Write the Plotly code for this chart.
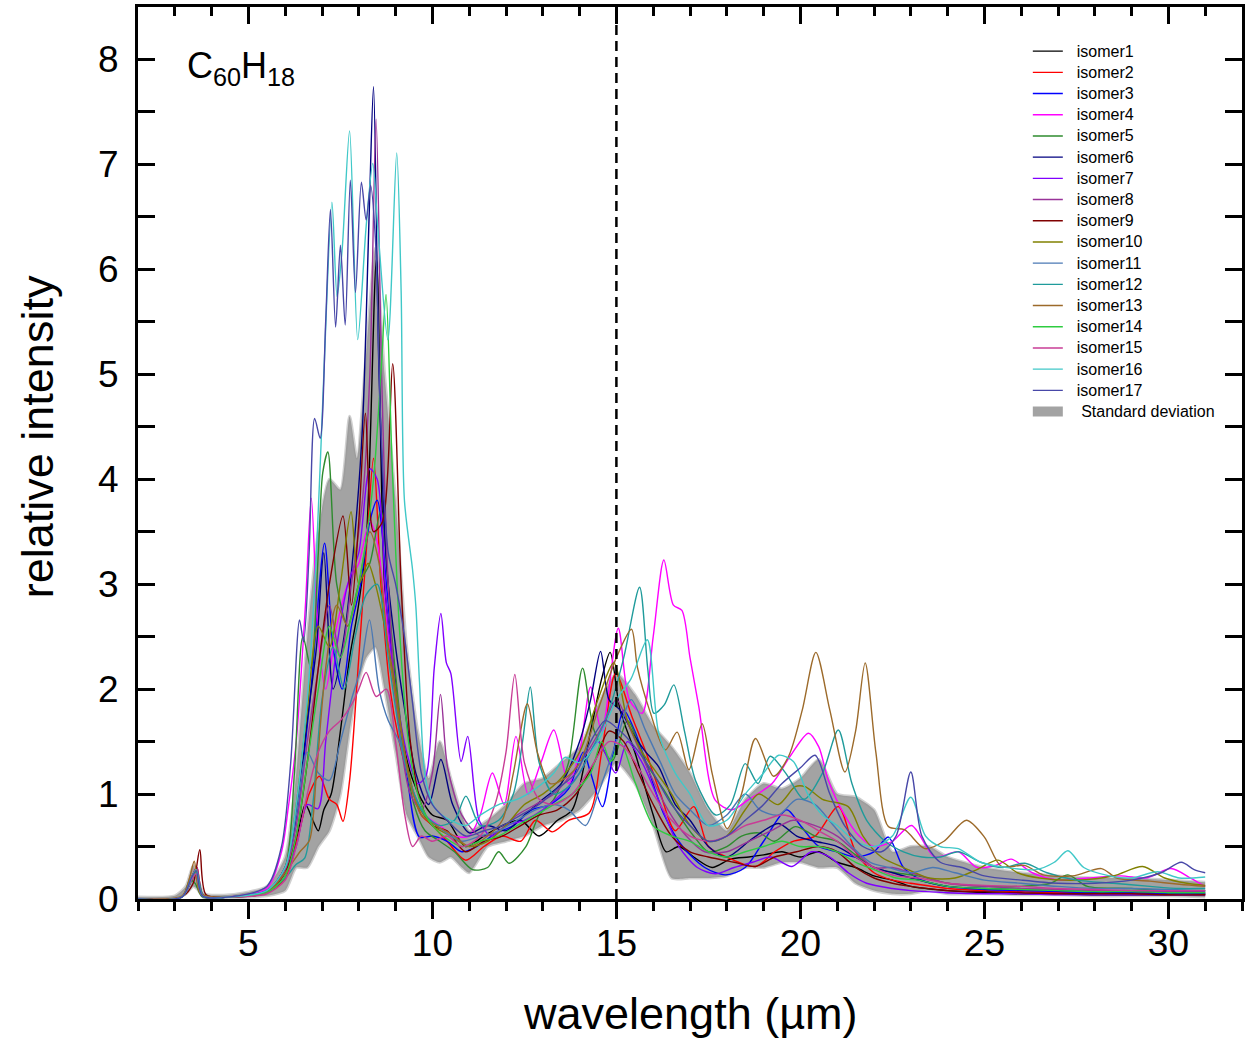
import plotly.graph_objects as go

# ---- IR spectra of the C60H18 isomers: (wavelength in um, relative intensity) ----
iso1 = [(2,0),(3.2,0.02),(3.45,0.18),(3.58,0.26),(3.75,0.04),(4.5,0.02),(5.5,0.07),(6.0,0.25),(6.3,0.55),(6.55,0.9),(6.75,0.75),(6.9,0.65),(7.05,0.85),(7.25,1.0),(7.5,1.6),(7.75,2.3),(7.95,2.7),(8.2,3.4),(8.48,6.1),(8.7,3.0),(8.95,2.2),(9.2,1.5),(9.45,1.15),(9.7,0.95),(10.0,0.8),(10.4,0.75),(10.9,0.5),(11.4,0.6),(11.9,0.7),(12.4,0.75),(12.9,0.6),(13.4,0.75),(13.8,0.85),(14.3,1.6),(14.6,2.1),(14.83,2.35),(15.1,1.8),(15.5,1.4),(16.0,0.8),(16.35,0.45),(16.7,0.5),(17.1,0.4),(17.6,0.3),(18.1,0.38),(18.6,0.4),(19.0,0.42),(19.5,0.45),(20.0,0.4),(20.5,0.45),(21.0,0.35),(21.5,0.3),(22.0,0.22),(22.5,0.18),(23.0,0.12),(24,0.08),(25,0.06),(26,0.05),(27,0.05),(28,0.04),(29,0.04),(30,0.04),(31,0.04)]
iso2 = [(2,0),(3.2,0.02),(3.45,0.2),(3.6,0.3),(3.78,0.03),(4.5,0.02),(5.5,0.06),(6.0,0.2),(6.35,0.6),(6.65,1.0),(6.93,1.17),(7.2,0.95),(7.4,0.9),(7.57,0.74),(7.75,1.13),(8.0,2.3),(8.2,3.3),(8.4,4.2),(8.6,3.0),(8.85,2.0),(9.1,1.5),(9.4,1.1),(9.7,0.8),(10.0,0.7),(10.4,0.55),(10.9,0.37),(11.4,0.5),(11.9,0.6),(12.4,0.55),(12.8,0.75),(13.26,0.64),(13.7,0.75),(14.26,0.82),(14.6,1.4),(14.98,2.15),(15.42,1.74),(15.8,1.4),(16.2,1.0),(16.6,0.65),(17.1,0.88),(17.5,0.5),(18.0,0.4),(18.78,0.31),(19.3,0.45),(19.8,0.55),(20.4,0.6),(21.03,0.88),(21.5,0.45),(22.0,0.25),(22.5,0.18),(23.0,0.15),(24,0.1),(25,0.08),(26,0.07),(27,0.06),(28,0.06),(29,0.05),(30,0.05),(31,0.05)]
iso3 = [(2,0),(3.2,0.02),(3.45,0.18),(3.58,0.25),(3.75,0.03),(4.5,0.02),(5.5,0.07),(6.0,0.3),(6.35,0.9),(6.7,2.0),(7.07,3.39),(7.3,2.4),(7.55,2.0),(7.8,2.6),(8.05,3.0),(8.3,3.6),(8.5,3.8),(8.75,3.0),(9.0,2.0),(9.3,1.2),(9.65,0.59),(10.0,0.6),(10.4,0.55),(10.8,0.45),(11.2,0.5),(11.7,0.62),(12.2,0.7),(12.7,0.85),(13.2,0.9),(13.7,1.05),(14.1,1.4),(14.3,1.2),(14.62,0.88),(14.93,1.42),(15.2,1.8),(15.5,1.6),(15.9,1.2),(16.3,0.8),(16.8,0.5),(17.4,0.3),(17.96,0.23),(18.5,0.3),(19.0,0.55),(19.63,0.85),(20.0,0.7),(20.5,0.5),(21.0,0.45),(21.5,0.4),(22.0,0.45),(22.39,0.59),(22.8,0.3),(23.3,0.18),(24,0.12),(25,0.09),(26,0.08),(27,0.07),(28,0.06),(29,0.06),(30,0.05),(31,0.05)]
iso4 = [(2,0),(3.2,0.02),(3.45,0.2),(3.58,0.27),(3.75,0.03),(4.5,0.02),(5.5,0.1),(5.9,0.45),(6.08,0.86),(6.3,1.5),(6.55,2.8),(6.71,3.82),(6.9,2.5),(7.1,2.0),(7.4,2.6),(7.7,3.0),(8.0,3.2),(8.3,3.6),(8.5,3.4),(8.8,2.5),(9.1,1.6),(9.4,1.1),(9.8,0.8),(10.2,0.7),(10.6,0.6),(11.0,0.6),(11.3,0.8),(11.63,1.2),(11.95,0.9),(12.27,1.55),(12.6,1.0),(12.95,1.3),(13.3,1.61),(13.7,1.1),(14.0,1.4),(14.3,2.02),(14.6,1.6),(15.05,2.58),(15.35,1.9),(15.7,1.77),(16.0,2.5),(16.29,3.23),(16.55,2.8),(16.78,2.75),(17.0,2.3),(17.24,1.83),(17.69,0.94),(18.14,0.85),(18.6,0.95),(19.23,1.1),(19.72,1.36),(20.22,1.58),(20.5,1.45),(20.76,1.13),(21.2,0.8),(21.6,0.6),(22.0,0.5),(22.5,0.55),(23.02,0.70),(23.65,0.4),(24.29,0.45),(24.8,0.3),(25.3,0.32),(25.73,0.38),(26.3,0.25),(27.0,0.18),(27.8,0.2),(28.72,0.22),(29.4,0.2),(30.07,0.29),(30.6,0.2),(31,0.12)]
iso5 = [(2,0),(3.2,0.02),(3.41,0.18),(3.55,0.15),(3.75,0.02),(4.5,0.02),(5.5,0.06),(6.0,0.3),(6.25,1.2),(6.48,2.5),(6.7,2.2),(6.9,3.3),(7.02,4.06),(7.16,4.26),(7.4,3.0),(7.7,2.6),(8.0,3.0),(8.3,3.2),(8.6,3.7),(8.9,2.5),(9.2,1.5),(9.5,0.9),(9.8,0.65),(10.2,0.55),(10.6,0.45),(11.09,0.28),(11.5,0.3),(11.8,0.45),(12.09,0.34),(12.54,0.5),(12.9,0.8),(13.3,0.95),(13.7,1.3),(14.08,2.2),(14.4,1.6),(14.89,1.32),(15.3,1.7),(15.8,1.3),(16.29,1.04),(16.7,0.8),(17.1,0.6),(17.5,0.45),(18.0,0.5),(18.4,0.6),(18.87,0.63),(19.3,0.55),(19.86,0.69),(20.4,0.6),(21.0,0.55),(21.5,0.42),(22.0,0.3),(22.6,0.25),(23.2,0.22),(24,0.15),(25,0.12),(26,0.12),(26.8,0.15),(27.27,0.23),(27.8,0.12),(29,0.1),(30,0.08),(31,0.08)]
iso6 = [(2,0),(3.2,0.02),(3.45,0.2),(3.58,0.28),(3.75,0.03),(4.5,0.02),(5.5,0.08),(6.0,0.3),(6.3,0.8),(6.6,1.7),(6.85,2.4),(7.05,3.3),(7.3,2.0),(7.6,2.5),(7.9,3.5),(8.1,4.5),(8.28,6.5),(8.4,7.74),(8.55,5.0),(8.75,3.2),(9.0,2.4),(9.25,1.8),(9.55,1.2),(9.9,0.9),(10.23,1.33),(10.55,0.9),(11.0,0.63),(11.5,0.7),(12.0,0.65),(12.5,0.8),(13.0,0.95),(13.5,1.1),(14.0,1.5),(14.3,1.9),(14.57,2.36),(14.8,1.9),(15.1,1.8),(15.5,1.55),(15.8,1.4),(16.15,1.26),(16.6,0.9),(17.0,0.75),(17.5,0.5),(18.0,0.4),(18.6,0.55),(19.0,0.65),(19.41,0.72),(19.9,0.6),(20.4,0.55),(21.0,0.5),(21.5,0.4),(22.0,0.3),(22.5,0.25),(23.0,0.2),(24,0.12),(25,0.1),(26,0.09),(27,0.08),(28,0.07),(29,0.07),(30,0.06),(31,0.06)]
iso7 = [(2,0),(3.2,0.02),(3.45,0.18),(3.58,0.24),(3.75,0.03),(4.5,0.02),(5.5,0.06),(6.0,0.25),(6.3,0.5),(6.6,0.9),(6.89,0.86),(7.1,1.5),(7.4,2.4),(7.7,3.0),(8.0,3.3),(8.3,4.1),(8.5,4.0),(8.75,2.8),(9.0,2.0),(9.3,1.4),(9.6,1.1),(9.82,1.17),(10.05,2.2),(10.23,2.72),(10.38,2.25),(10.5,2.15),(10.78,1.31),(10.96,1.55),(11.27,0.75),(11.6,0.6),(12.0,0.7),(12.5,0.75),(13.0,0.85),(13.5,1.0),(14.0,1.2),(14.5,1.5),(14.98,1.2),(15.3,1.5),(15.7,1.3),(16.2,0.9),(16.7,0.5),(17.2,0.3),(17.69,0.24),(18.2,0.3),(18.7,0.35),(19.2,0.4),(19.77,0.31),(20.3,0.45),(20.8,0.4),(21.3,0.25),(21.8,0.15),(22.5,0.1),(23,0.08),(24,0.06),(25,0.05),(26,0.05),(27,0.04),(28,0.04),(29,0.04),(30,0.04),(31,0.04)]
iso8 = [(2,0),(3.2,0.02),(3.45,0.2),(3.6,0.3),(3.78,0.03),(4.5,0.02),(5.5,0.07),(6.0,0.28),(6.3,0.7),(6.6,1.5),(6.9,2.2),(7.2,2.8),(7.5,2.3),(7.8,3.0),(8.1,3.8),(8.3,5.0),(8.47,7.43),(8.62,5.0),(8.8,3.0),(9.1,1.6),(9.4,1.0),(9.7,0.85),(10.0,1.2),(10.22,1.95),(10.41,1.26),(10.8,0.8),(11.3,0.6),(11.8,0.65),(12.3,0.8),(12.8,0.9),(13.3,1.0),(13.8,1.2),(14.3,1.45),(14.7,1.7),(15.0,1.9),(15.4,1.6),(15.9,1.2),(16.4,0.85),(16.9,0.6),(17.4,0.45),(18.0,0.45),(18.6,0.55),(19.2,0.65),(19.8,0.75),(20.4,0.7),(21.0,0.6),(21.5,0.45),(22.0,0.3),(22.5,0.3),(23.0,0.25),(24,0.15),(25,0.12),(26,0.1),(27,0.09),(28,0.08),(29,0.08),(30,0.07),(31,0.07)]
iso9 = [(2,0),(3.2,0.02),(3.5,0.15),(3.68,0.47),(3.85,0.04),(4.5,0.02),(5.5,0.06),(6.0,0.25),(6.3,0.6),(6.6,1.3),(6.9,2.2),(7.2,3.0),(7.57,3.65),(7.8,2.8),(8.0,3.6),(8.18,4.63),(8.4,3.5),(8.65,3.6),(8.92,5.1),(9.15,3.0),(9.4,1.5),(9.7,0.9),(10.0,0.7),(10.4,0.65),(10.9,0.45),(11.4,0.55),(11.9,0.6),(12.4,0.7),(12.9,0.8),(13.4,0.85),(13.9,1.0),(14.4,1.3),(14.8,1.6),(15.2,1.5),(15.6,1.2),(16.0,0.9),(16.5,0.6),(17.0,0.45),(17.5,0.4),(18.2,0.35),(18.78,0.31),(19.3,0.4),(19.9,0.45),(20.5,0.5),(21.0,0.45),(21.5,0.3),(22.0,0.2),(22.5,0.15),(23,0.12),(24,0.08),(25,0.07),(26,0.06),(27,0.05),(28,0.05),(29,0.05),(30,0.04),(31,0.04)]
iso10 = [(2,0),(3.2,0.02),(3.45,0.2),(3.58,0.28),(3.75,0.03),(4.5,0.02),(5.5,0.07),(6.0,0.3),(6.3,0.9),(6.6,1.8),(6.9,2.6),(7.2,2.4),(7.5,3.0),(7.79,3.69),(8.0,3.0),(8.25,3.2),(8.45,3.0),(8.7,2.6),(9.0,2.0),(9.3,1.3),(9.6,0.9),(10.0,0.7),(10.5,0.6),(11.0,0.5),(11.5,0.55),(12.0,0.7),(12.5,0.9),(13.0,1.0),(13.5,1.15),(14.0,1.4),(14.5,1.9),(14.93,2.25),(15.3,1.7),(15.7,1.4),(16.1,1.2),(16.5,1.0),(17.0,0.7),(17.5,0.55),(18.0,0.6),(18.5,0.85),(18.87,1.0),(19.4,0.9),(19.86,1.07),(20.13,1.07),(20.6,0.95),(21.3,0.88),(21.7,0.6),(22.2,0.4),(22.8,0.3),(23.5,0.2),(24.2,0.2),(24.8,0.28),(25.37,0.37),(25.9,0.25),(26.5,0.2),(27.5,0.18),(28.5,0.22),(29.3,0.31),(29.9,0.2),(30.5,0.15),(31,0.13)]
iso11 = [(2,0),(3.2,0.02),(3.45,0.18),(3.58,0.25),(3.75,0.03),(4.5,0.02),(5.5,0.08),(6.0,0.3),(6.3,0.8),(6.6,1.4),(6.9,1.2),(7.2,1.13),(7.5,1.5),(7.8,1.9),(8.05,2.2),(8.29,2.66),(8.55,2.0),(8.8,1.7),(9.1,1.5),(9.4,1.1),(9.8,0.8),(10.3,0.65),(10.8,0.55),(11.3,0.6),(11.8,0.65),(12.3,0.75),(12.8,0.85),(13.3,0.9),(13.7,0.85),(14.16,0.7),(14.5,1.0),(15.0,1.5),(15.4,1.9),(15.8,1.6),(16.2,1.3),(16.6,1.0),(17.0,0.85),(17.5,0.7),(18.0,0.8),(18.5,1.0),(18.9,0.85),(19.4,0.8),(19.9,0.95),(20.4,0.9),(20.9,0.7),(21.4,0.5),(21.9,0.35),(22.4,0.3),(23.0,0.25),(23.6,0.3),(24.2,0.25),(25,0.18),(26,0.15),(27,0.12),(28,0.1),(29,0.1),(30,0.09),(31,0.08)]
iso12 = [(2,0),(3.2,0.02),(3.45,0.2),(3.6,0.25),(3.78,0.03),(4.5,0.02),(5.5,0.06),(6.0,0.2),(6.3,0.33),(6.53,0.39),(6.75,0.9),(7.0,1.9),(7.3,2.4),(7.6,2.0),(7.9,2.5),(8.2,2.9),(8.5,3.0),(8.8,2.3),(9.1,1.6),(9.4,1.1),(9.8,0.8),(10.2,0.7),(10.6,0.75),(10.91,0.98),(11.3,0.7),(11.8,0.75),(12.2,1.0),(12.45,1.5),(12.66,2.02),(12.9,1.3),(13.3,1.0),(13.8,1.1),(14.3,1.4),(14.8,1.8),(15.2,2.3),(15.63,2.97),(15.85,2.2),(16.02,1.77),(16.3,1.85),(16.56,2.04),(16.85,1.6),(17.15,1.13),(17.7,0.8),(18.1,0.9),(18.5,1.29),(18.85,1.1),(19.18,1.36),(19.6,1.2),(20.1,0.95),(20.6,1.2),(21.03,1.61),(21.4,1.1),(21.8,0.75),(22.3,0.55),(22.8,0.45),(23.3,0.4),(23.8,0.4),(24.3,0.45),(24.9,0.35),(25.5,0.3),(26.1,0.34),(26.7,0.25),(27.5,0.18),(28.5,0.15),(29.5,0.12),(30.3,0.1),(31,0.1)]
iso13 = [(2,0),(3.2,0.03),(3.4,0.2),(3.53,0.36),(3.7,0.05),(4.5,0.02),(5.5,0.06),(6.0,0.25),(6.4,0.45),(6.66,0.56),(6.85,1.2),(7.1,2.2),(7.4,2.8),(7.7,2.6),(8.0,3.0),(8.3,3.5),(8.55,3.2),(8.8,2.4),(9.1,1.7),(9.4,1.1),(9.7,0.8),(10.1,0.7),(10.6,0.6),(11.0,0.5),(11.5,0.6),(11.9,0.75),(12.2,1.2),(12.58,1.86),(12.85,1.4),(13.2,1.1),(13.6,1.15),(14.0,1.3),(14.5,1.8),(15.0,2.3),(15.41,2.57),(15.57,2.21),(15.9,1.8),(16.33,1.42),(16.65,1.59),(16.97,1.23),(17.33,1.67),(17.6,1.2),(18.01,0.67),(18.4,1.0),(18.78,1.53),(19.27,1.17),(19.68,1.36),(20.05,1.8),(20.42,2.35),(20.8,1.8),(21.21,1.21),(21.5,1.6),(21.76,2.25),(22.05,1.4),(22.39,0.69),(22.83,0.66),(23.38,0.48),(23.9,0.55),(24.51,0.75),(25.0,0.59),(25.46,0.31),(26.09,0.32),(26.6,0.23),(27.4,0.22),(28.18,0.29),(28.6,0.2),(29.5,0.17),(30.3,0.14),(31.0,0.12)]
iso14 = [(2,0),(3.2,0.02),(3.45,0.18),(3.58,0.25),(3.75,0.03),(4.5,0.02),(5.5,0.06),(6.0,0.22),(6.3,0.6),(6.6,1.3),(6.9,2.0),(7.2,2.6),(7.5,2.3),(7.8,2.7),(8.1,3.2),(8.4,4.0),(8.6,5.0),(8.74,5.76),(8.9,4.2),(9.1,2.6),(9.35,1.5),(9.6,1.0),(9.9,0.75),(10.3,0.6),(10.8,0.5),(11.3,0.55),(11.8,0.6),(12.3,0.7),(12.8,0.8),(13.3,0.9),(13.8,1.0),(14.3,1.2),(14.6,1.5),(14.84,1.31),(15.1,1.5),(15.52,1.1),(16.02,0.69),(16.5,0.6),(17.0,0.55),(17.5,0.45),(18.0,0.4),(18.5,0.45),(19.0,0.5),(19.5,0.55),(20.0,0.5),(20.5,0.5),(21.0,0.45),(21.5,0.35),(22.0,0.28),(22.6,0.2),(23.2,0.18),(24,0.12),(25,0.1),(26,0.09),(27,0.08),(28,0.07),(29,0.07),(30,0.06),(31,0.06)]
iso15 = [(2,0),(3.2,0.02),(3.45,0.18),(3.58,0.24),(3.75,0.03),(4.5,0.02),(5.5,0.05),(6.0,0.18),(6.3,0.5),(6.6,1.0),(6.9,1.4),(7.2,1.6),(7.5,1.7),(7.8,1.85),(8.0,2.0),(8.2,2.16),(8.47,1.93),(8.75,2.0),(9.0,1.5),(9.25,0.8),(9.46,0.5),(9.7,0.6),(10.0,0.55),(10.4,0.6),(10.8,0.5),(11.3,0.6),(11.7,0.9),(12.0,1.4),(12.24,2.14),(12.5,1.3),(12.9,0.95),(13.3,0.9),(13.8,1.0),(14.3,1.25),(14.8,1.5),(15.2,1.45),(15.6,1.25),(16.0,1.0),(16.5,0.75),(17.0,0.6),(17.5,0.55),(18.0,0.6),(18.5,0.7),(19.0,0.75),(19.5,0.8),(20.0,0.75),(20.5,0.65),(21.0,0.55),(21.5,0.4),(22.0,0.3),(22.6,0.22),(23.2,0.2),(24,0.15),(25,0.13),(26,0.12),(27,0.1),(28,0.09),(29,0.08),(30,0.08),(31,0.08)]
iso16 = [(2,0),(3.2,0.02),(3.45,0.2),(3.58,0.28),(3.75,0.03),(4.5,0.02),(5.5,0.08),(6.0,0.3),(6.3,0.9),(6.6,1.9),(6.85,3.3),(7.05,5.0),(7.27,6.64),(7.41,5.74),(7.55,6.2),(7.75,7.32),(7.97,5.33),(8.2,6.41),(8.38,7.01),(8.52,6.38),(8.79,5.33),(9.03,7.11),(9.15,5.8),(9.24,3.8),(9.46,3.14),(9.55,2.79),(9.65,2.06),(9.82,1.13),(10.1,0.85),(10.5,0.75),(10.9,0.7),(11.3,0.8),(11.8,0.9),(12.3,0.95),(12.8,1.05),(13.3,1.2),(13.6,1.35),(14.0,1.3),(14.5,1.5),(15.0,1.9),(15.4,2.1),(15.84,2.47),(16.15,1.58),(16.6,1.2),(17.0,1.0),(17.5,0.7),(18.0,0.75),(18.5,1.0),(19.0,1.2),(19.41,1.37),(19.81,1.31),(20.2,1.0),(20.6,0.8),(21.0,0.7),(21.5,0.55),(22.0,0.5),(22.5,0.6),(23.0,0.97),(23.4,0.6),(23.8,0.5),(24.29,0.48),(24.9,0.35),(25.6,0.3),(26.4,0.28),(26.9,0.35),(27.27,0.46),(27.7,0.3),(28.4,0.22),(29.0,0.2),(29.71,0.26),(30.3,0.2),(31.0,0.21)]
iso17 = [(2,0),(3.2,0.02),(3.45,0.2),(3.58,0.27),(3.75,0.03),(4.5,0.02),(5.5,0.12),(5.9,0.5),(6.15,1.3),(6.39,2.66),(6.5,2.45),(6.65,3.3),(6.8,4.58),(6.95,4.39),(7.1,5.5),(7.23,6.57),(7.37,5.45),(7.5,6.23),(7.63,5.47),(7.77,6.85),(7.91,5.78),(8.07,6.83),(8.2,6.47),(8.32,6.8),(8.45,6.3),(8.6,4.5),(8.8,3.3),(9.0,3.0),(9.2,2.6),(9.45,1.9),(9.7,1.2),(10.0,0.9),(10.4,0.75),(10.9,0.6),(11.4,0.65),(11.9,0.7),(12.4,0.8),(12.9,0.9),(13.4,1.05),(13.9,1.2),(14.3,1.5),(14.7,1.7),(15.1,1.6),(15.5,1.45),(16.0,1.2),(16.5,0.9),(17.0,0.7),(17.5,0.55),(18.0,0.6),(18.5,0.75),(19.0,0.9),(19.5,1.1),(20.0,1.25),(20.4,1.37),(20.8,1.0),(21.2,0.7),(21.7,0.5),(22.2,0.45),(22.6,0.6),(23.0,1.21),(23.3,0.6),(23.8,0.35),(24.4,0.3),(25,0.22),(26,0.18),(27,0.15),(28,0.15),(29,0.18),(29.8,0.25),(30.35,0.35),(30.7,0.28),(31.0,0.25)]

isomer_spectra = [iso1, iso2, iso3, iso4, iso5, iso6, iso7, iso8, iso9, iso10,
                  iso11, iso12, iso13, iso14, iso15, iso16, iso17]
isomer_names = [f"isomer{i}" for i in range(1, 18)]
isomer_colors = ["#000000", "#ff0000", "#0000ff", "#ff00ff", "#2e8b2e", "#000080",
                 "#8000ff", "#993399", "#800000", "#808000", "#4a78b4", "#1f9b9b",
                 "#9c6a2a", "#2ecc40", "#c83c96", "#40c8c8", "#4848a8"]

# ---- mean +/- standard deviation envelope ----
band_wl = [2, 3, 3.3, 3.5, 3.6, 3.8, 4.5, 5.5, 6.0, 6.3, 6.6, 6.9, 7.2, 7.5, 7.75, 7.95, 8.2, 8.45, 8.7, 9.0,
           9.3, 9.6, 9.9, 10.2, 10.5, 10.8, 11.0, 11.5, 12, 12.5, 13, 13.5, 14, 14.5, 15, 15.5, 16, 16.5, 17, 17.5,
           18, 18.5, 19, 19.5, 20, 20.5, 21, 21.5, 22, 22.5, 23, 23.5, 24, 25, 26, 27, 28, 29, 30, 31]
band_upper = [0.02, 0.03, 0.12, 0.32, 0.22, 0.05, 0.04, 0.12, 0.4, 1.2, 2.5, 3.5, 4.0, 3.9, 4.6, 4.2, 5.2, 6.2, 5.0, 3.8,
              2.4, 1.6, 1.15, 1.5, 1.15, 0.8, 0.65, 0.75, 0.9, 1.1, 1.15, 1.3, 1.45, 1.85, 2.15, 1.95, 1.65, 1.45, 1.2, 0.85,
              0.65, 0.95, 1.1, 1.05, 1.15, 1.33, 1.0, 0.97, 0.85, 0.45, 0.5, 0.5, 0.4, 0.3, 0.25, 0.22, 0.2, 0.2, 0.18, 0.16]
band_lower = [0, 0.01, 0.05, 0.12, 0.1, 0.01, 0.01, 0.03, 0.08, 0.3, 0.3, 0.5, 0.65, 1.0, 1.6, 2.0, 2.3, 2.4, 2.0, 1.4,
              0.8, 0.6, 0.4, 0.35, 0.4, 0.3, 0.25, 0.5, 0.55, 0.6, 0.7, 0.75, 0.85, 1.05, 1.3, 1.1, 0.7, 0.2, 0.2, 0.2,
              0.22, 0.3, 0.3, 0.35, 0.35, 0.3, 0.3, 0.15, 0.08, 0.05, 0.05, 0.08, 0.05, 0.05, 0.04, 0.04, 0.03, 0.03, 0.03, 0.02]

FONT = "Liberation Sans, Arial, sans-serif"
BAND_GREY = "rgb(163,163,163)"

fig = go.Figure()

# envelope: lower edge, then upper edge filled down to it (soft grey rim)
rim = dict(width=3, color="rgba(150,150,150,0.45)", shape="spline", smoothing=0.6)
fig.add_trace(go.Scatter(x=band_wl, y=band_lower, mode="lines", line=rim, showlegend=False, hoverinfo="skip"))
fig.add_trace(go.Scatter(x=band_wl, y=band_upper, mode="lines", fill="tonexty", fillcolor=BAND_GREY,
                         line=rim, showlegend=False, hoverinfo="skip"))

for name, color, spec in zip(isomer_names, isomer_colors, isomer_spectra):
    wl = [p[0] for p in spec]
    inten = [p[1] for p in spec]
    fig.add_trace(go.Scatter(x=wl, y=inten, mode="lines", name=f'<span style="font-size:16px">  {name}</span>',
                             line=dict(color=color, width=1.4, shape="spline", smoothing=0.8)))

# legend key for the envelope
fig.add_trace(go.Scatter(x=[None], y=[None], mode="lines", line=dict(color=BAND_GREY, width=14),
                         name='<span style="font-size:16px">   Standard deviation</span>'))

# helper trace so the top axis (inward ticks) is drawn
fig.add_trace(go.Scatter(x=[2], y=[0], xaxis="x2", mode="markers", marker=dict(opacity=0),
                         showlegend=False, hoverinfo="skip"))

axis_common = dict(showline=True, linecolor="black", linewidth=3, showgrid=False, zeroline=False,
                   tickcolor="black", tickwidth=2.5)

fig.update_layout(
    width=1247, height=1040,
    margin=dict(l=138, r=2, t=7, b=141),
    paper_bgcolor="white", plot_bgcolor="white",
    font=dict(family=FONT, color="black"),
    xaxis=dict(range=[2, 32], tickvals=[5, 10, 15, 20, 25, 30], ticks="outside", ticklen=17,
               mirror=True, tickfont=dict(size=37), ticklabelstandoff=-7,
               minor=dict(dtick=1, tick0=0, ticks="outside", ticklen=9, tickwidth=2.5, tickcolor="black"),
               **axis_common),
    xaxis2=dict(range=[2, 32], overlaying="x", side="top", tickvals=[5, 10, 15, 20, 25, 30], ticks="inside",
                ticklen=17, showticklabels=False,
                minor=dict(dtick=1, tick0=0, ticks="inside", ticklen=9, tickwidth=2.5, tickcolor="black"),
                **axis_common),
    yaxis=dict(range=[0, 8.5], tickvals=list(range(0, 9)), ticks="inside", ticklen=17, mirror="allticks",
               tickfont=dict(size=37), ticklabelstandoff=9,
               minor=dict(dtick=0.5, tick0=0, ticks="inside", ticklen=9, tickwidth=2.5, tickcolor="black"),
               **axis_common),
    legend=dict(x=0.806, y=0.968, xanchor="left", yanchor="top", bgcolor="rgba(0,0,0,0)",
                font=dict(size=14, family=FONT), tracegroupgap=0, traceorder="normal"),
    shapes=[dict(type="line", xref="x", yref="paper", x0=15, x1=15, y0=0, y1=1,
                 line=dict(color="black", width=2.5, dash="10px,6px"))],
    annotations=[
        dict(text="relative intensity", xref="paper", yref="paper", x=-0.0903, y=0.518, showarrow=False,
             textangle=-90, font=dict(size=45, family=FONT), xanchor="center", yanchor="middle"),
        dict(text="wavelength (µm)", xref="paper", yref="paper", x=0.5005, y=-0.128, showarrow=False,
             font=dict(size=45, family=FONT), xanchor="center", yanchor="middle"),
        dict(text="C<sub>60</sub>H<sub>18</sub>", xref="paper", yref="paper", x=0.0425, y=0.96, showarrow=False,
             font=dict(size=36, family=FONT), xanchor="left", yanchor="top"),
    ],
)

fig.write_html("out.html")
